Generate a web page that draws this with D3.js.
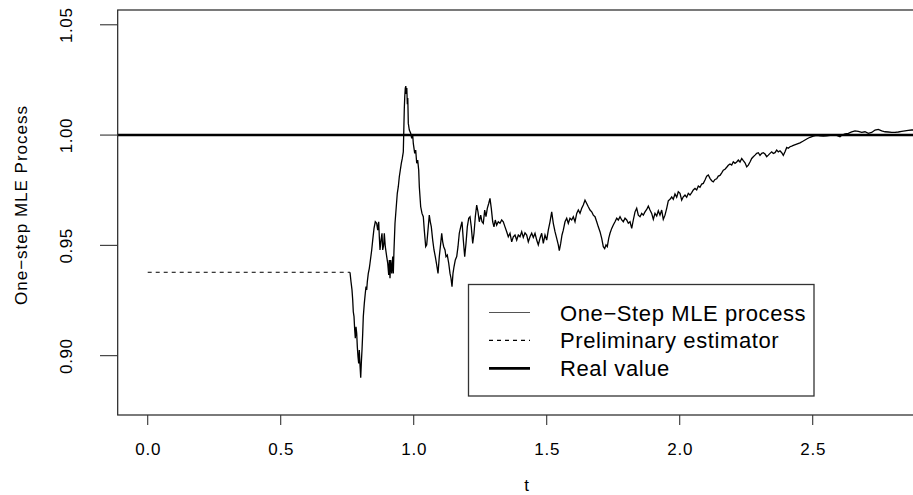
<!DOCTYPE html>
<html>
<head>
<meta charset="utf-8">
<script src="https://cdn.jsdelivr.net/npm/d3@7"></script>
<style>
  body { margin: 0; background: #fff; }
  text { font-family: "Liberation Sans", Arial, Helvetica, sans-serif; fill: #000; }
</style>
</head>
<body>
<script>
// values
const tValues = [
  0.7605, 0.7643, 0.7680, 0.7707, 0.7729, 0.7756, 0.7782, 0.7805, 0.7831, 0.7857,
  0.7880, 0.7906, 0.7932, 0.7955, 0.7981, 0.8008, 0.8030, 0.8056, 0.8083, 0.8105,
  0.8143, 0.8180, 0.8207, 0.8233, 0.8256, 0.8293, 0.8331, 0.8357, 0.8421, 0.8459,
  0.8508, 0.8556, 0.8609, 0.8647, 0.8684, 0.8707, 0.8733, 0.8771, 0.8808, 0.8835,
  0.8872, 0.8895, 0.8932, 0.8985, 0.9023, 0.9060, 0.9083, 0.9109, 0.9135, 0.9173,
  0.9211, 0.9233, 0.9259, 0.9297, 0.9335, 0.9383, 0.9421, 0.9459, 0.9496, 0.9534,
  0.9571, 0.9609, 0.9628, 0.9647, 0.9665, 0.9684, 0.9703, 0.9722, 0.9741, 0.9760,
  0.9778, 0.9797, 0.9835, 0.9887, 0.9925, 0.9962, 0.9985, 1.0038, 1.0075, 1.0113,
  1.0150, 1.0188, 1.0211, 1.0263, 1.0312, 1.0361, 1.0398, 1.0451, 1.0489, 1.0537,
  1.0586, 1.0624, 1.0662, 1.0714, 1.0763, 1.0812, 1.0865, 1.0914, 1.0962, 1.1015,
  1.1053, 1.1090, 1.1128, 1.1177, 1.1214, 1.1263, 1.1316, 1.1365, 1.1402, 1.1440,
  1.1477, 1.1515, 1.1564, 1.1617, 1.1665, 1.1714, 1.1767, 1.1816, 1.1865, 1.1917,
  1.1966, 1.2015, 1.2068, 1.2117, 1.2165, 1.2218, 1.2267, 1.2316, 1.2368, 1.2417,
  1.2466, 1.2519, 1.2567, 1.2616, 1.2669, 1.2718, 1.2767, 1.2820, 1.2868, 1.2917,
  1.2970, 1.3018, 1.3067, 1.3120, 1.3180, 1.3244, 1.3308, 1.3368, 1.3432, 1.3496,
  1.3556, 1.3620, 1.3684, 1.3744, 1.3808, 1.3872, 1.3932, 1.3996, 1.4060, 1.4120,
  1.4184, 1.4248, 1.4308, 1.4372, 1.4436, 1.4496, 1.4560, 1.4624, 1.4684, 1.4748,
  1.4812, 1.4872, 1.4936, 1.5000, 1.5060, 1.5124, 1.5188, 1.5248, 1.5312, 1.5376,
  1.5436, 1.5474, 1.5526, 1.5575, 1.5624, 1.5688, 1.5752, 1.5812, 1.5876, 1.5940,
  1.6000, 1.6064, 1.6128, 1.6188, 1.6252, 1.6316, 1.6376, 1.6440, 1.6504, 1.6564,
  1.6628, 1.6692, 1.6752, 1.6816, 1.6880, 1.6940, 1.7004, 1.7068, 1.7128, 1.7180,
  1.7229, 1.7278, 1.7331, 1.7380, 1.7444, 1.7504, 1.7568, 1.7632, 1.7692, 1.7756,
  1.7820, 1.7880, 1.7944, 1.8008, 1.8068, 1.8132, 1.8196, 1.8256, 1.8320, 1.8383,
  1.8444, 1.8508, 1.8571, 1.8632, 1.8695, 1.8759, 1.8820, 1.8883, 1.8947, 1.9008,
  1.9071, 1.9135, 1.9196, 1.9259, 1.9323, 1.9383, 1.9447, 1.9511, 1.9571, 1.9635,
  1.9699, 1.9759, 1.9823, 1.9887, 1.9947, 2.0011, 2.0075, 2.0135, 2.0199, 2.0263,
  2.0323, 2.0387, 2.0451, 2.0511, 2.0575, 2.0639, 2.0699, 2.0763, 2.0827, 2.0887,
  2.0951, 2.1015, 2.1075, 2.1139, 2.1203, 2.1263, 2.1327, 2.1391, 2.1451, 2.1515,
  2.1579, 2.1639, 2.1703, 2.1767, 2.1827, 2.1891, 2.1955, 2.2015, 2.2079, 2.2143,
  2.2203, 2.2267, 2.2331, 2.2391, 2.2455, 2.2519, 2.2579, 2.2643, 2.2707, 2.2767,
  2.2831, 2.2895, 2.2955, 2.3019, 2.3083, 2.3143, 2.3207, 2.3271, 2.3331, 2.3395,
  2.3459, 2.3519, 2.3583, 2.3647, 2.3707, 2.3771, 2.3835, 2.3895, 2.3959, 2.4023,
  2.4083, 2.4147, 2.4211, 2.4271, 2.4398, 2.4522, 2.4647, 2.4774, 2.4898, 2.5023,
  2.5150, 2.5274, 2.5398, 2.5526, 2.5650, 2.5774, 2.5902, 2.6026, 2.6090, 2.6215,
  2.6339, 2.6466, 2.6590, 2.6714, 2.6842, 2.6966, 2.7090, 2.7218, 2.7342, 2.7466,
  2.7594, 2.7718, 2.7842, 2.7970, 2.8094, 2.8218, 2.8346, 2.8470, 2.8594, 2.8722,
  2.8846
];
const mleValues = [
  0.9378, 0.9335, 0.9298, 0.9252, 0.9199, 0.9177, 0.9116, 0.9079, 0.9131, 0.9101,
  0.9041, 0.8995, 0.8965, 0.9026, 0.8958, 0.8900, 0.8965, 0.9026, 0.9101, 0.9177,
  0.9237, 0.9283, 0.9313, 0.9298, 0.9335, 0.9373, 0.9396, 0.9419, 0.9479, 0.9524,
  0.9577, 0.9607, 0.9600, 0.9569, 0.9607, 0.9539, 0.9479, 0.9524, 0.9555, 0.9479,
  0.9502, 0.9555, 0.9494, 0.9449, 0.9419, 0.9366, 0.9434, 0.9351, 0.9434, 0.9373,
  0.9449, 0.9373, 0.9479, 0.9600, 0.9660, 0.9736, 0.9766, 0.9811, 0.9841, 0.9872,
  0.9894, 0.9924, 1.0023, 1.0122, 1.0177, 1.0213, 1.0222, 1.0186, 1.0213, 1.0140,
  1.0168, 1.0053, 1.0023, 1.0008, 0.9985, 1.0000, 0.9962, 0.9917, 0.9932, 0.9872,
  0.9887, 0.9841, 0.9766, 0.9675, 0.9645, 0.9630, 0.9569, 0.9494, 0.9502, 0.9569,
  0.9637, 0.9607, 0.9584, 0.9524, 0.9479, 0.9449, 0.9411, 0.9373, 0.9449, 0.9509,
  0.9555, 0.9516, 0.9494, 0.9479, 0.9449, 0.9456, 0.9419, 0.9373, 0.9351, 0.9313,
  0.9373, 0.9403, 0.9434, 0.9449, 0.9494, 0.9555, 0.9584, 0.9607, 0.9524, 0.9449,
  0.9509, 0.9584, 0.9623, 0.9630, 0.9584, 0.9509, 0.9555, 0.9630, 0.9683, 0.9652,
  0.9607, 0.9637, 0.9607, 0.9600, 0.9660, 0.9630, 0.9668, 0.9690, 0.9713, 0.9668,
  0.9607, 0.9584, 0.9615, 0.9592, 0.9607, 0.9600, 0.9615, 0.9607, 0.9584, 0.9562,
  0.9539, 0.9555, 0.9516, 0.9539, 0.9547, 0.9524, 0.9547, 0.9539, 0.9562, 0.9536,
  0.9557, 0.9547, 0.9516, 0.9539, 0.9555, 0.9536, 0.9555, 0.9524, 0.9502, 0.9532,
  0.9555, 0.9509, 0.9547, 0.9524, 0.9569, 0.9607, 0.9652, 0.9600, 0.9562, 0.9532,
  0.9502, 0.9476, 0.9509, 0.9547, 0.9569, 0.9607, 0.9623, 0.9600, 0.9623, 0.9615,
  0.9630, 0.9607, 0.9645, 0.9660, 0.9645, 0.9668, 0.9683, 0.9705, 0.9690, 0.9675,
  0.9660, 0.9652, 0.9637, 0.9630, 0.9607, 0.9584, 0.9562, 0.9532, 0.9494, 0.9485,
  0.9502, 0.9494, 0.9532, 0.9555, 0.9577, 0.9592, 0.9607, 0.9623, 0.9615, 0.9630,
  0.9615, 0.9607, 0.9623, 0.9615, 0.9600, 0.9607, 0.9577, 0.9615, 0.9652, 0.9668,
  0.9637, 0.9630, 0.9645, 0.9637, 0.9652, 0.9663, 0.9678, 0.9660, 0.9645, 0.9618,
  0.9645, 0.9633, 0.9657, 0.9637, 0.9660, 0.9618, 0.9637, 0.9668, 0.9702, 0.9709,
  0.9720, 0.9709, 0.9733, 0.9718, 0.9743, 0.9736, 0.9705, 0.9720, 0.9728, 0.9718,
  0.9736, 0.9728, 0.9739, 0.9751, 0.9758, 0.9751, 0.9769, 0.9763, 0.9778, 0.9781,
  0.9796, 0.9814, 0.9819, 0.9804, 0.9793, 0.9788, 0.9799, 0.9802, 0.9814, 0.9817,
  0.9829, 0.9841, 0.9845, 0.9854, 0.9863, 0.9869, 0.9864, 0.9879, 0.9872, 0.9878,
  0.9887, 0.9878, 0.9894, 0.9884, 0.9874, 0.9856, 0.9864, 0.9878, 0.9894, 0.9902,
  0.9909, 0.9917, 0.9920, 0.9908, 0.9917, 0.9920, 0.9914, 0.9902, 0.9909, 0.9917,
  0.9924, 0.9917, 0.9920, 0.9932, 0.9924, 0.9929, 0.9920, 0.9908, 0.9924, 0.9944,
  0.9940, 0.9947, 0.9950, 0.9953, 0.9959, 0.9965, 0.9973, 0.9982, 0.9990, 0.9995,
  0.9999, 0.9997, 0.9995, 0.9997, 0.9999, 1.0001, 0.9999, 0.9992, 0.9999, 1.0005,
  1.0008, 1.0014, 1.0019, 1.0017, 1.0012, 1.0015, 1.0008, 1.0012, 1.0023, 1.0026,
  1.0019, 1.0015, 1.0014, 1.0012, 1.0012, 1.0014, 1.0017, 1.0019, 1.0021, 1.0023,
  1.0023
];
const prelimT = [0, 0.7605];
const prelimValue = 0.9378;
const realValue = 1.0;
const xTicks = [0, 0.5, 1.0, 1.5, 2.0, 2.5];
const yTicks = [0.90, 0.95, 1.00, 1.05];
const legendLabels = ["One\u2212Step MLE process", "Preliminary estimator", "Real value"];
const xTitle = "t";
const yTitle = "One\u2212step MLE Process";

const W = 913, H = 495;
const box = { left: 117.7, right: 935.7, top: 10, bottom: 415 };

const x = d3.scaleLinear().domain([-0.1128, 2.9624]).range([box.left, box.right]);
const y = d3.scaleLinear().domain([0.8731, 1.0567]).range([box.bottom, box.top]);

const svg = d3.select("body").append("svg")
  .attr("width", W).attr("height", H);

svg.append("defs").append("clipPath").attr("id", "plotClip")
  .append("rect")
  .attr("x", box.left).attr("y", box.top)
  .attr("width", box.right - box.left).attr("height", box.bottom - box.top);

const plot = svg.append("g").attr("clip-path", "url(#plotClip)");

// real value
plot.append("line")
  .attr("x1", box.left).attr("x2", box.right)
  .attr("y1", y(realValue)).attr("y2", y(realValue))
  .attr("stroke", "#000").attr("stroke-width", 2.6);

// preliminary estimator
plot.append("line")
  .attr("x1", x(prelimT[0])).attr("x2", x(prelimT[1]))
  .attr("y1", y(prelimValue)).attr("y2", y(prelimValue))
  .attr("stroke", "#000").attr("stroke-width", 1)
  .attr("stroke-dasharray", "4,4");

// one-step MLE process
const line = d3.line().x(d => x(d[0])).y(d => y(d[1]));
plot.append("path")
  .datum(d3.zip(tValues, mleValues))
  .attr("d", line)
  .attr("fill", "none").attr("stroke", "#000").attr("stroke-width", 1.3)
  .attr("stroke-linejoin", "miter");

// frame
svg.append("rect")
  .attr("x", box.left).attr("y", box.top)
  .attr("width", box.right - box.left).attr("height", box.bottom - box.top)
  .attr("fill", "none").attr("stroke", "#222").attr("stroke-width", 1.2);

// x axis
const xAxis = svg.append("g");
xAxis.selectAll("line").data(xTicks).join("line")
  .attr("x1", d => x(d)).attr("x2", d => x(d))
  .attr("y1", box.bottom).attr("y2", box.bottom + 10)
  .attr("stroke", "#333").attr("stroke-width", 1.1);
xAxis.selectAll("text").data(xTicks).join("text")
  .attr("x", d => x(d) + 0.5).attr("y", 454.5)
  .attr("text-anchor", "middle")
  .attr("font-size", 17).attr("letter-spacing", 0.8)
  .text(d => d.toFixed(1));
svg.append("text")
  .attr("x", (box.left + box.right) / 2).attr("y", 491)
  .attr("text-anchor", "middle").attr("font-size", 17)
  .text(xTitle);

// y axis
const yAxis = svg.append("g");
yAxis.selectAll("line").data(yTicks).join("line")
  .attr("x1", box.left - 17.7).attr("x2", box.left)
  .attr("y1", d => y(d)).attr("y2", d => y(d))
  .attr("stroke", "#333").attr("stroke-width", 1.1);
yAxis.selectAll("text").data(yTicks).join("text")
  .attr("transform", d => `translate(72,${y(d) + 0.5}) rotate(-90)`)
  .attr("text-anchor", "middle")
  .attr("font-size", 17).attr("letter-spacing", 0.6)
  .text(d => d.toFixed(2));
svg.append("text")
  .attr("transform", "translate(26.7,205) rotate(-90)")
  .attr("text-anchor", "middle")
  .attr("font-size", 17).attr("letter-spacing", 1)
  .text(yTitle);

// legend
const legendBox = { left: 468.5, top: 284.5, right: 814, bottom: 396 };
svg.append("rect")
  .attr("x", legendBox.left).attr("y", legendBox.top)
  .attr("width", legendBox.right - legendBox.left)
  .attr("height", legendBox.bottom - legendBox.top)
  .attr("fill", "#fff").attr("stroke", "#333").attr("stroke-width", 1.3);

const legendStyles = [
  { stroke: "#555", width: 1.1, dash: null },
  { stroke: "#000", width: 1.1, dash: "4,4" },
  { stroke: "#000", width: 2.8, dash: null }
];
const rowY = i => 312.5 + i * 27.9;
const legend = svg.append("g");
legend.selectAll("line").data(legendLabels).join("line")
  .attr("x1", 489).attr("x2", 530)
  .attr("y1", (d, i) => rowY(i)).attr("y2", (d, i) => rowY(i))
  .attr("stroke", (d, i) => legendStyles[i].stroke)
  .attr("stroke-width", (d, i) => legendStyles[i].width)
  .attr("stroke-dasharray", (d, i) => legendStyles[i].dash);
legend.selectAll("text").data(legendLabels).join("text")
  .attr("x", 560).attr("y", (d, i) => rowY(i) + 8)
  .attr("font-size", 22).attr("letter-spacing", 0.6)
  .text(d => d);
</script>
</body>
</html>
